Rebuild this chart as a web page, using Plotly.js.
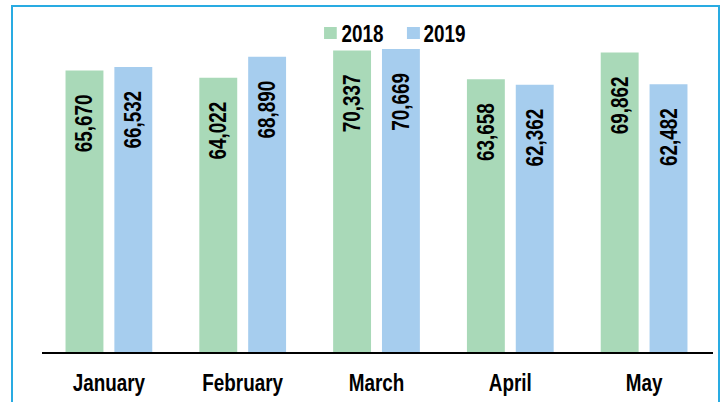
<!DOCTYPE html>
<html>
<head>
<meta charset="utf-8">
<script src="https://cdn.plot.ly/plotly-3.0.1.min.js"></script>
<style>
  html, body { margin: 0; padding: 0; background: #fff; overflow: hidden; }
  #wrap { position: relative; width: 725px; height: 402px; overflow: hidden; }
  #chart { position: absolute; left: 0; top: 0; width: 725px; height: 402px; }
  #frame { position: absolute; left: 11px; top: 5px; width: 705px; height: 430px;
           border: 2px solid #29abe2; pointer-events: none; }
  #ttl { position: absolute; left: 9px; top: -18px; white-space: nowrap; line-height: 1;
         font-family: "Liberation Sans", Arial, sans-serif; font-weight: bold;
         font-size: 21px; color: #1f5a78; }
</style>
</head>
<body>
<div id="wrap">
  <div id="ttl">Figure 3: Copper output (kt), January–May 2018 and 2019</div>
  <div id="chart"></div>
  <div id="frame"></div>
</div>
<script>
const months = ["January", "February", "March", "April", "May"];
const seriesNames = ["2018", "2019"];
const values2018 = [65670, 64022, 70337, 63658, 69862];
const values2019 = [66532, 68890, 70669, 62362, 62482];
const seriesColors = ['#a9d9b8', '#a6cdee'];

const FONT = '"Liberation Sans", Arial, sans-serif';
const NARROW = 0.82;            // horizontal condensing (Arial Narrow look)
const PAD = '\u2002\u2009';
const fmt = v => v.toLocaleString('en-US') + PAD;

function barTrace(name, vals, color) {
  return {
    type: 'bar', name: name, x: months, y: vals,
    marker: { color: color, line: { width: 0 } },
    text: vals.map(fmt), textposition: 'inside', insidetextanchor: 'end',
    textangle: -90, constraintext: 'none',
    textfont: { family: FONT, size: 23, color: '#000', weight: 'bold' },
    hoverinfo: 'none', showlegend: false
  };
}

const data = [
  barTrace(seriesNames[0], values2018, seriesColors[0]),
  barTrace(seriesNames[1], values2019, seriesColors[1])
];

// legend drawn in paper coordinates
const legSq = [[0.4216, 0.4406], [0.5455, 0.5649]];
const legTxt = [0.4787, 0.6022];
const shapes = [
  { type: 'line', xref: 'paper', yref: 'paper', x0: 0, x1: 1.003, y0: 0, y1: 0,
    line: { color: '#000', width: 2 } }
];
const annotations = [];
seriesNames.forEach((n, i) => {
  shapes.push({ type: 'rect', xref: 'paper', yref: 'paper',
    x0: legSq[i][0], x1: legSq[i][1], y0: 0.9128, y1: 0.9477,
    fillcolor: seriesColors[i], line: { width: 0 } });
  annotations.push({ xref: 'paper', yref: 'paper', x: legTxt[i], y: 0.926,
    xanchor: 'center', yanchor: 'middle', showarrow: false, text: n,
    font: { family: FONT, size: 23, color: '#000', weight: 'bold' } });
});

const layout = {
  width: 725, height: 402,
  margin: { l: 41.5, r: 13.5, t: 9, b: 49 },
  paper_bgcolor: '#fff', plot_bgcolor: '#fff',
  barmode: 'group', bargap: 0.27, bargroupgap: 0.224,
  font: { family: FONT, size: 23, color: '#000', weight: 'bold' },
  showlegend: false,
  xaxis: { type: 'category', showgrid: false, zeroline: false, showline: false,
           ticks: 'outside', ticklen: 9, tickcolor: 'rgba(0,0,0,0)',
           tickfont: { family: FONT, size: 23, color: '#000', weight: 'bold' } },
  yaxis: { range: [0, 80000], visible: false, showgrid: false, zeroline: false },
  shapes: shapes,
  annotations: annotations
};

Plotly.newPlot('chart', data, layout, { displayModeBar: false, staticPlot: true }).then(gd => {
  gd.querySelectorAll('svg text').forEach(t => {
    if (!t.textContent.trim()) return;
    const w = t.getComputedTextLength();
    if (w > 0) {
      t.setAttribute('textLength', (w * NARROW).toFixed(2));
      t.setAttribute('lengthAdjust', 'spacingAndGlyphs');
    }
  });
});
</script>
</body>
</html>
